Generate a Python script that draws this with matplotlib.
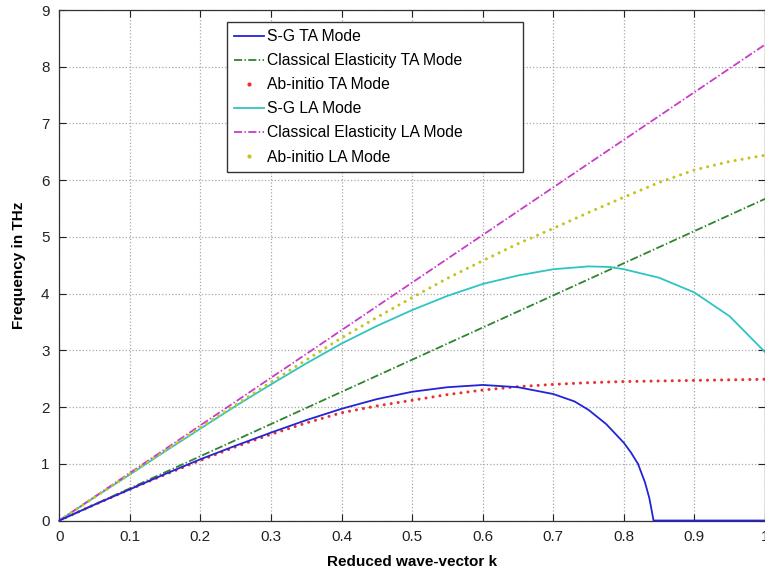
import numpy as np
import matplotlib
matplotlib.use("Agg")
import matplotlib.pyplot as plt
from matplotlib.lines import Line2D

plt.rcParams['font.family'] = ['Liberation Sans', 'DejaVu Sans']

# reduced wave-vector k
k_sg_ta = [0, 0.05, 0.1, 0.15, 0.2, 0.25, 0.3, 0.35, 0.4, 0.45, 0.5, 0.55, 0.6,
           0.65, 0.7, 0.73, 0.75, 0.775, 0.8, 0.81, 0.82, 0.83, 0.836, 0.84, 0.842, 1.0]
f_sg_ta = [0, 0.28, 0.55, 0.82, 1.08, 1.32, 1.55, 1.77, 1.97, 2.14, 2.27, 2.35, 2.39,
           2.35, 2.23, 2.10, 1.95, 1.70, 1.37, 1.20, 1.00, 0.67, 0.40, 0.14, 0, 0]

k_ce = [0, 1.0]
f_ce_ta = [0, 5.67]
f_ce_la = [0, 8.39]

k_ab = [0, 0.05, 0.1, 0.15, 0.2, 0.25, 0.3, 0.35, 0.4, 0.45, 0.5, 0.55, 0.6, 0.65,
        0.7, 0.75, 0.8, 0.85, 0.9, 0.95, 1.0]
f_ab_ta = [0, 0.28, 0.55, 0.81, 1.06, 1.30, 1.52, 1.72, 1.90, 2.02, 2.12, 2.22, 2.30, 2.36,
           2.40, 2.43, 2.45, 2.46, 2.47, 2.48, 2.49]
f_ab_la = [0, 0.41, 0.82, 1.23, 1.64, 2.04, 2.44, 2.83, 3.22, 3.58, 3.93, 4.27, 4.58, 4.88,
           5.15, 5.43, 5.70, 5.96, 6.18, 6.33, 6.44]

k_sg_la = [0, 0.05, 0.1, 0.15, 0.2, 0.25, 0.3, 0.35, 0.4, 0.45, 0.5, 0.55, 0.6, 0.65,
           0.7, 0.75, 0.78, 0.8, 0.85, 0.9, 0.95, 1.0]
f_sg_la = [0, 0.41, 0.81, 1.22, 1.62, 2.02, 2.40, 2.77, 3.12, 3.43, 3.71, 3.96, 4.17, 4.32,
           4.43, 4.48, 4.47, 4.43, 4.28, 4.02, 3.60, 2.97]

labels = ["S-G TA Mode", "Classical Elasticity TA Mode", "Ab-initio TA Mode",
          "S-G LA Mode", "Classical Elasticity LA Mode", "Ab-initio LA Mode"]

azul = '#2323d8'
verde = '#2f852f'
rojo = '#e8302e'
cian = '#2fc4c4'
magenta = '#c83cc8'
amarillo = '#c4c41c'

dashdot = (0, (4.5, 1.3, 0.8, 1.3))
puntos = (0, (0.01, 2.3))

fig = plt.figure(figsize=(7.65, 5.72), dpi=100)
ax = fig.add_axes([0.0775, 0.090, 0.9225, 0.8925])

ax.grid(True, linestyle=':', color='#a8a8a8', linewidth=0.9)
ax.set_axisbelow(True)

ax.plot(k_sg_ta, f_sg_ta, color=azul, linewidth=1.3, clip_on=False, zorder=5)
ax.plot(k_ce, f_ce_ta, color=verde, linewidth=1.3, linestyle=dashdot)
ax.plot(k_ab, f_ab_ta, color=rojo, linewidth=2.2, linestyle=puntos, dash_capstyle='round')
ax.plot(k_sg_la, f_sg_la, color=cian, linewidth=1.3)
ax.plot(k_ce, f_ce_la, color=magenta, linewidth=1.3, linestyle=dashdot)
ax.plot(k_ab, f_ab_la, color=amarillo, linewidth=2.2, linestyle=puntos, dash_capstyle='round')

ax.set_xlim(0, 1)
ax.set_ylim(0, 9)
ax.set_xticks(np.arange(0, 1.01, 0.1))
ax.set_xticklabels(['0', '0.1', '0.2', '0.3', '0.4', '0.5', '0.6', '0.7', '0.8', '0.9', '1'])
ax.set_yticks(range(0, 10))
ax.tick_params(direction='in', length=5, width=0.8, top=True, right=True,
               labelsize=11, pad=7, colors='#222222')
for s in ax.spines.values():
    s.set_color('#333333')
    s.set_linewidth(0.9)

ax.set_xlabel("Reduced wave-vector k", fontsize=11, fontweight='bold', labelpad=8)
ax.set_ylabel("Frequency in THz", fontsize=11, fontweight='bold', labelpad=10.5)

handles = [
    Line2D([], [], color=azul, linewidth=1.3),
    Line2D([], [], color=verde, linewidth=1.3, linestyle=dashdot),
    Line2D([], [], color=rojo, marker='.', markersize=4, linestyle='none'),
    Line2D([], [], color=cian, linewidth=1.3),
    Line2D([], [], color=magenta, linewidth=1.3, linestyle=dashdot),
    Line2D([], [], color=amarillo, marker='.', markersize=4, linestyle='none'),
]
leg = ax.legend(handles, labels, loc='upper left',
                bbox_to_anchor=(226.7 / 765, 1 - 170 / 572, (523 - 226.7) / 765, 148 / 572),
                bbox_transform=fig.transFigure, mode='expand',
                fontsize=11.3, frameon=True, fancybox=False, framealpha=1,
                edgecolor='#333333', borderpad=0.45, labelspacing=0.58,
                handlelength=1.9, handletextpad=0.2, borderaxespad=0)
leg.get_frame().set_linewidth(1.0)

fig.savefig("out.png", dpi=100)
